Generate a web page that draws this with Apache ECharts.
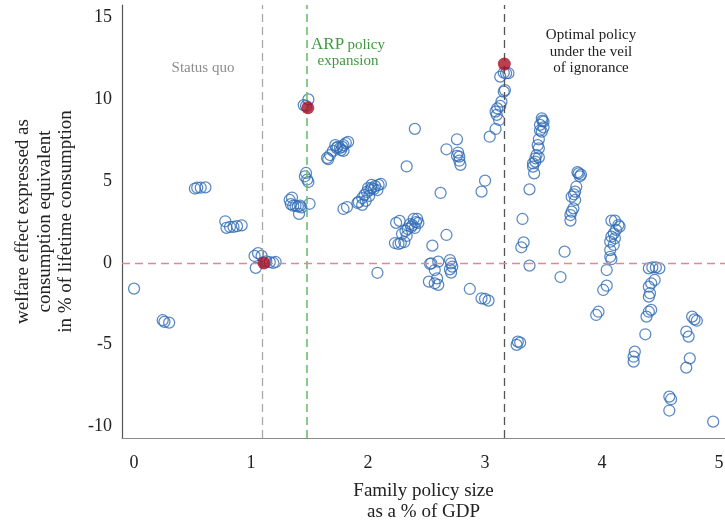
<!DOCTYPE html>
<html>
<head>
<meta charset="utf-8">
<script src="https://cdn.jsdelivr.net/npm/echarts@6/dist/echarts.min.js"></script>
<style>
  html, body { margin: 0; padding: 0; background: #fff; }
  #chart { width: 725px; height: 522px; }
</style>
</head>
<body>
<div id="chart"></div>
<script>
  // tick labels
  var xTicks = [0, 1, 2, 3, 4, 5];
  var yTicks = [-10, -5, 0, 5, 10, 15];

  // policy markers (family policy size, % of GDP)
  var statusQuoX = 1.105;
  var arpX = 1.476;
  var optimalX = 3.157;

  // simulated policies: [size % GDP, welfare effect %]
  var lowPolicies = [[0.00, -1.57], [0.245, -3.5], [0.26, -3.6], [0.30, -3.65],
    [0.52, 4.55], [0.54, 4.6], [0.57, 4.6], [0.61, 4.62],
    [0.78, 2.55], [0.79, 2.15], [0.82, 2.2], [0.85, 2.2], [0.88, 2.25], [0.92, 2.3],
    [1.03, 0.43], [1.06, 0.6], [1.09, 0.43], [1.04, -0.3], [1.16, 0.05], [1.19, 0.0], [1.21, 0.06], [1.13, 0.1]];

  var arpPolicies = [[1.45, 9.65], [1.47, 9.6], [1.49, 10.0],
    [1.46, 5.3], [1.48, 5.1], [1.49, 4.95], [1.47, 5.5],
    [1.35, 4.0], [1.33, 3.85], [1.34, 3.6], [1.36, 3.5], [1.38, 3.5], [1.40, 3.45], [1.42, 3.5], [1.43, 3.4],
    [1.41, 3.0], [1.50, 3.62]];

  var midPolicies = [[1.65, 6.42], [1.675, 6.6], [1.70, 6.85], [1.73, 7.03], [1.74, 7.1], [1.76, 7.03], [1.78, 7.1],
    [1.79, 7.2], [1.81, 7.33], [1.83, 7.4], [1.72, 7.2], [1.77, 6.9], [1.79, 6.85], [1.66, 6.35],
    [1.79, 3.3], [1.82, 3.42], [1.92, 3.73], [1.95, 3.97], [1.97, 4.16], [1.99, 4.34], [2.02, 4.46], [2.03, 4.58],
    [2.06, 4.7], [2.09, 4.77], [2.11, 4.83], [2.0, 4.58], [2.03, 4.77], [2.05, 4.52], [2.08, 4.46], [1.95, 3.55],
    [1.98, 3.8], [1.91, 3.67], [2.01, 4.1], [2.08, -0.6],
    [2.24, 2.45], [2.27, 2.57], [2.23, 1.22], [2.26, 1.16], [2.28, 1.22], [2.31, 1.28], [2.29, 1.77], [2.32, 1.96],
    [2.34, 2.08], [2.37, 2.2], [2.38, 2.32], [2.41, 2.5], [2.42, 2.69], [2.39, 2.69], [2.36, 2.38], [2.43, 2.45],
    [2.33, 1.65], [2.40, 2.14], [2.33, 5.9], [2.40, 8.2], [2.62, 4.28], [2.67, 1.71], [2.55, 1.06]];

  var nearZeroPolicies = [[2.53, -0.06], [2.60, 0.08], [2.54, -0.02], [2.57, -0.43], [2.70, 0.18], [2.71, -0.02],
    [2.72, -0.22], [2.70, -0.39], [2.71, -0.59], [2.52, -1.14], [2.59, -0.94], [2.60, -1.34], [2.57, -1.24],
    [2.87, -1.59], [2.97, -2.16], [3.0, -2.2], [3.03, -2.3],
    [2.76, 7.56], [2.67, 6.95], [2.77, 6.75], [2.78, 6.5], [2.78, 6.25], [2.79, 6.0], [2.76, 6.55]];

  var optimalPolicies = [[2.97, 4.36], [3.0, 5.03], [3.04, 7.72], [3.09, 8.19], [3.12, 8.74], [3.10, 9.05], [3.09, 9.25],
    [3.105, 9.45], [3.13, 9.6], [3.14, 9.86], [3.17, 10.57], [3.16, 10.47], [3.13, 11.39], [3.18, 11.6],
    [3.20, 11.6], [3.16, 11.63], [3.28, -4.81], [3.27, -5.01], [3.30, -4.87],
    [3.485, 8.84], [3.50, 8.64], [3.47, 8.44], [3.50, 8.29], [3.485, 8.03], [3.46, 7.56], [3.46, 7.01], [3.44, 6.6],
    [3.43, 6.4], [3.41, 6.09], [3.41, 5.89], [3.42, 5.48], [3.46, 6.46], [3.38, 4.5], [3.32, 2.69], [3.33, 1.26],
    [3.31, 0.96], [3.38, -0.16], [3.49, 8.7], [3.47, 8.1], [3.45, 7.2], [3.43, 6.2]];

  var highPolicies = [[3.80, 5.48], [3.79, 5.55], [3.82, 5.4], [3.81, 5.3], [3.78, 4.66], [3.77, 4.36], [3.74, 4.05],
    [3.77, 3.85], [3.755, 3.34], [3.74, 3.14], [3.73, 2.93], [3.73, 2.59], [3.76, 4.2], [3.68, 0.69], [3.645, -0.86],
    [4.08, 2.59], [4.11, 2.59], [4.14, 2.32], [4.15, 2.22], [4.12, 2.02], [4.10, 1.81], [4.08, 1.61], [4.11, 1.51],
    [4.07, 1.3], [4.10, 1.1], [4.07, 0.79], [4.07, 0.38], [4.08, 0.23], [4.04, -0.43], [4.04, -1.39], [4.01, -1.65],
    [3.97, -2.98], [3.95, -3.18],
    [4.40, -0.33], [4.43, -0.27], [4.46, -0.27], [4.49, -0.33], [4.45, -1.04], [4.42, -1.24], [4.40, -1.45],
    [4.41, -1.85], [4.40, -2.06], [4.42, -2.87], [4.40, -2.98], [4.38, -3.28], [4.37, -4.36], [4.28, -5.42],
    [4.27, -5.73], [4.27, -6.03], [4.575, -8.17], [4.59, -8.33], [4.575, -9.02], [4.77, -3.28], [4.79, -3.45],
    [4.81, -3.53], [4.72, -4.2], [4.74, -4.5], [4.75, -5.83], [4.72, -6.4], [4.95, -9.7]];

  // status quo, ARP expansion, optimal policy
  var highlightPoints = [[1.11, 0.0], [1.485, 9.49], [3.165, 12.16]];

  var serif = 'Liberation Serif';
  var allPolicies = lowPolicies.concat(arpPolicies, midPolicies, nearZeroPolicies, optimalPolicies, highPolicies);

  var chart = echarts.init(document.getElementById('chart'), null, {renderer: 'canvas'});
  var option = {
    animation: false,
    grid: {left: 122, right: 0, top: 5, bottom: 84, outerBoundsMode: 'none', containLabel: false},
    xAxis: {
      type: 'value',
      min: -0.103,
      max: 5.051,
      name: 'Family policy size\nas a % of GDP',
      nameLocation: 'middle',
      nameGap: 43,
      nameTextStyle: {fontFamily: serif, fontSize: 19, color: '#222', lineHeight: 21},
      axisLine: {onZero: false, lineStyle: {color: '#8a8a8a', width: 1.2}},
      axisTick: {show: false},
      splitLine: {show: false},
      axisLabel: {
        customValues: xTicks,
        margin: 16,
        fontFamily: serif,
        fontSize: 18,
        color: '#222'
      }
    },
    yAxis: {
      type: 'value',
      min: -10.70,
      max: 15.77,
      name: 'welfare effect expressed as\nconsumption equivalent\nin % of lifetime consumption',
      nameLocation: 'middle',
      nameRotate: 90,
      nameGap: 37,
      nameTextStyle: {fontFamily: serif, fontSize: 19, color: '#222', lineHeight: 21.5},
      axisLine: {show: true, onZero: false, lineStyle: {color: '#555', width: 1.2}},
      axisTick: {show: false},
      splitLine: {show: false},
      axisLabel: {
        customValues: yTicks,
        margin: 10,
        fontFamily: serif,
        fontSize: 18,
        color: '#222'
      }
    },
    graphic: [
      {type: 'text', x: 203, y: 68, style: {text: 'Status quo', font: '15px ' + serif, fill: '#8c8c8c', align: 'center', verticalAlign: 'middle'}},
      {
        type: 'text', x: 348, y: 53,
        style: {
          text: '{a|ARP} {b|policy}\n{b|expansion}',
          fill: '#3f9a3f',
          align: 'center',
          verticalAlign: 'middle',
          rich: {
            a: {fontFamily: serif, fontSize: 17, fill: '#3f9a3f', lineHeight: 16},
            b: {fontFamily: serif, fontSize: 15, fill: '#3f9a3f', lineHeight: 16}
          }
        }
      },
      {
        type: 'text', x: 591, y: 52,
        style: {
          text: 'Optimal policy\nunder the veil\nof ignorance',
          font: '15px ' + serif,
          fill: '#222',
          align: 'center',
          verticalAlign: 'middle',
          lineHeight: 16.5
        }
      }
    ],
    series: [
      {
        type: 'scatter',
        data: allPolicies,
        symbol: 'circle',
        symbolSize: 11,
        itemStyle: {color: 'rgba(0,0,0,0)', borderColor: '#2f6cb5', borderWidth: 1.25},
        z: 3,
        markLine: {
          silent: true,
          symbol: 'none',
          label: {show: false},
          data: [
            {xAxis: statusQuoX, lineStyle: {color: '#a8a8a8', type: [8, 5], width: 1.3}},
            {xAxis: arpX, lineStyle: {color: '#6cbf6a', type: [8, 5], width: 1.6}},
            {xAxis: optimalX, lineStyle: {color: '#555555', type: [8, 5], width: 1.3}},
            {yAxis: 0, lineStyle: {color: '#d98c96', type: [8, 5], width: 1.3}}
          ]
        }
      },
      {
        type: 'scatter',
        data: highlightPoints,
        symbol: 'circle',
        symbolSize: 13,
        itemStyle: {color: '#a80f26'},
        z: 5
      }
    ]
  };
  chart.setOption(option);
</script>
</body>
</html>
